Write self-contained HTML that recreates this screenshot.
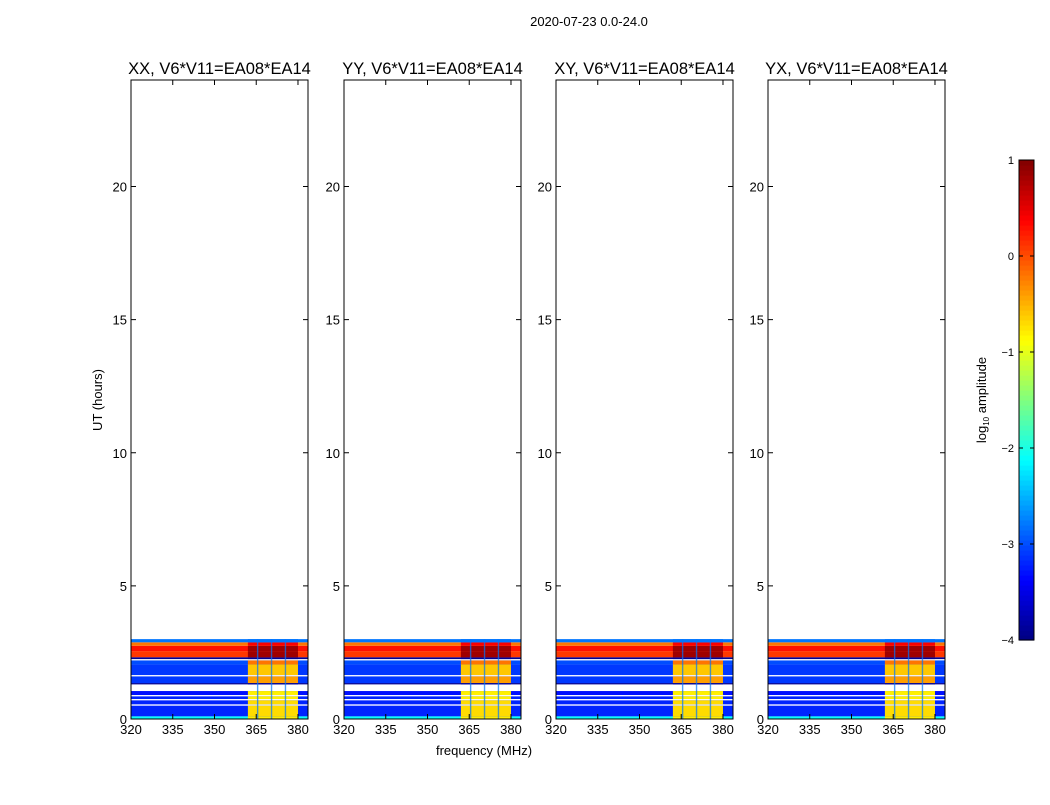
<!DOCTYPE html>
<html><head><meta charset="utf-8"><style>
body{margin:0;background:#fff;}
svg text{font-family:"Liberation Sans",sans-serif;fill:#000;}
</style></head><body>
<svg id="fig" width="1050" height="800" xmlns="http://www.w3.org/2000/svg">
<text x="589" y="26" font-size="13" text-anchor="middle">2020-07-23 0.0-24.0</text>
<text x="484" y="755" font-size="13" text-anchor="middle">frequency (MHz)</text>
<text transform="translate(102,400) rotate(-90)" font-size="13" text-anchor="middle">UT (hours)</text>
<g id="panels"></g>
<g id="cbar"></g>
<text transform="translate(986,400) rotate(-90)" font-size="13" text-anchor="middle">log<tspan font-size="8" dy="3">10</tspan><tspan dy="-3"> amplitude</tspan></text>
</svg>
<script>
const panelTitles = ["XX, V6*V11=EA08*EA14","YY, V6*V11=EA08*EA14","XY, V6*V11=EA08*EA14","YX, V6*V11=EA08*EA14"];
const xTicks = [320,335,350,365,380];
const yTicks = [0,5,10,15,20];
const cbTicks = [1,0,-1,-2,-3,-4];
// rows: start hour, end hour, background log amp, RFI-band log amp (null = no data)
const rowStart = [0.00,0.10,0.50,0.55,0.70,0.75,0.85,0.90,1.05,1.30,1.35,1.60,1.65,2.05,2.20,2.25,2.32,2.55,2.75,2.88];
const rowEnd   = [0.10,0.50,0.55,0.70,0.75,0.85,0.90,1.05,1.30,1.35,1.60,1.65,2.05,2.20,2.25,2.32,2.55,2.75,2.88,3.00];
const rowBg    = [-2.1,-3.2,null,-3.2,null,-3.2,null,-3.3,null,-3.9,-3.1,null,-3.1,-3.0,null,-3.9,0.1,0.3,-0.2,-2.8];
const rowRfi   = [-0.8,-0.7,null,-0.7,null,-0.8,null,-0.8,null,-3.9,-0.4,null,-0.6,-0.2,null,-3.9,0.85,0.85,0.4,-2.8];
const rfiStart = [362,362,362,362];
const rfiEnd = [380,380,380,380];
const rfiGaps = [365.5,370.5,375.5];

const NS="http://www.w3.org/2000/svg";
function jet(v){let t=(v+4)/5;t=Math.max(0,Math.min(1,t));
 const c=x=>Math.round(255*Math.max(0,Math.min(1,x)));
 return `rgb(${c(1.5-Math.abs(4*t-3))},${c(1.5-Math.abs(4*t-2))},${c(1.5-Math.abs(4*t-1))})`;}
function mk(tag,attrs,parent){const e=document.createElementNS(NS,tag);for(const k in attrs)e.setAttribute(k,attrs[k]);parent.appendChild(e);return e;}
const panelX=[131,344,556,768], pw=177, pTop=80, pBot=719;
const fMin=320,fMax=383.6,hMax=24;
const panels=document.getElementById('panels');
panelX.forEach((px,p)=>{
 const xs=f=>px+(f-fMin)/(fMax-fMin)*pw;
 const ys=h=>pBot-h/hMax*(pBot-pTop);
 const g=mk('g',{},panels);
 
 
 for(let i=0;i<rowStart.length;i++){
  if(rowBg[i]===null)continue;
  const y1=ys(rowEnd[i]),y0=ys(rowStart[i]);
  const r=mk('rect',{x:xs(fMin),y:y1,width:pw,height:y0-y1,fill:jet(rowBg[i])},g);
  
  
  const r2=mk('rect',{x:xs(rfiStart[p]),y:y1,width:xs(rfiEnd[p])-xs(rfiStart[p]),height:y0-y1,fill:jet(rowRfi[i])},g);
  
  
 }
 rfiGaps.forEach(f=>{const l=mk('rect',{x:xs(f)-0.7,y:ys(3),width:1.4,height:ys(0)-ys(3),fill:jet(-2.8),opacity:0.7},g);
  
  });
 const fr=mk('rect',{x:px,y:pTop,width:pw,height:pBot-pTop,fill:'none',stroke:'#000','stroke-width':1},g);
 
 
 const t=mk('text',{x:px+pw/2,y:74,'font-size':16.5,'text-anchor':'middle'},g);t.textContent=panelTitles[p];
 
 
 xTicks.forEach(v=>{const x=xs(v);
  mk('line',{x1:x,x2:x,y1:pBot,y2:pBot-5,stroke:'#000'},g);mk('line',{x1:x,x2:x,y1:pTop,y2:pTop+5,stroke:'#000'},g);
  const tl=mk('text',{x:x,y:pBot+15,'font-size':13,'text-anchor':'middle'},g);tl.textContent=v;
  
  });
 yTicks.forEach(v=>{const y=ys(v);
  mk('line',{x1:px,x2:px+5,y1:y,y2:y,stroke:'#000'},g);mk('line',{x1:px+pw,x2:px+pw-5,y1:y,y2:y,stroke:'#000'},g);
  const tl=mk('text',{x:px-4,y:y+5,'font-size':13,'text-anchor':'end'},g);tl.textContent=v;
  
  });
});
const cb=document.getElementById('cbar');
const cx=1019,cw=15,ct=160,cbb=640;
const cys=v=>cbb-(v+4)/5*(cbb-ct);
for(let i=0;i<96;i++){const v0=-4+i*5/96,v1=-4+(i+1)*5/96;
 mk('rect',{x:cx,y:cys(v1),width:cw,height:cys(v0)-cys(v1)+0.6,fill:jet((v0+v1)/2)},cb);}
const cf=mk('rect',{x:cx,y:ct,width:cw,height:cbb-ct,fill:'none',stroke:'#000'},cb);


cbTicks.forEach(v=>{const y=cys(v);
 mk('line',{x1:cx,x2:cx+4,y1:y,y2:y,stroke:'#000'},cb);mk('line',{x1:cx+cw,x2:cx+cw-4,y1:y,y2:y,stroke:'#000'},cb);
 const tl=mk('text',{x:cx-5,y:y+4,'font-size':11,'text-anchor':'end'},cb);tl.textContent=v<0?'\u2212'+(-v):v;
 
 });
</script>
</body></html>
